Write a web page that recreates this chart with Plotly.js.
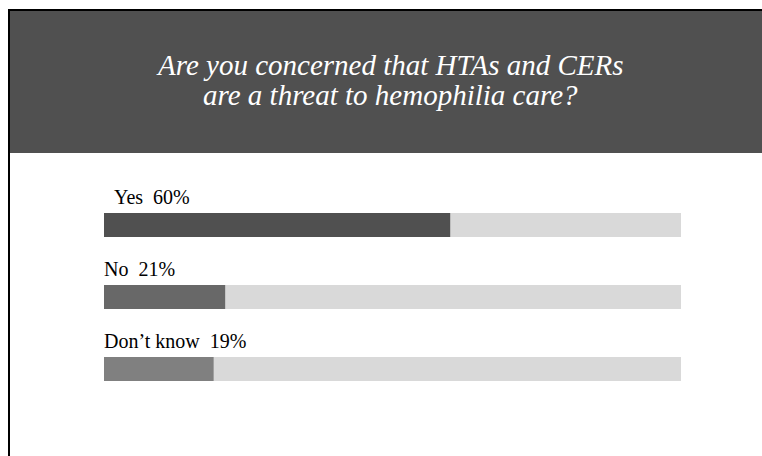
<!DOCTYPE html>
<html>
<head>
<meta charset="utf-8">
<script src="https://cdn.plot.ly/plotly-3.0.1.min.js"></script>
<style>html,body{margin:0;padding:0;background:#fff;}#chart{width:762px;height:456px;}</style>
</head>
<body>
<div id="chart"></div>
<script>
const categories = ["Yes", "No", "Don\u2019t know"];
const percents = [60, 21, 19];
const barColors = ["#505050", "#686868", "#808080"];
const labelPrefix = ["\u00a0\u00a0", "", ""];
const titleLines = ["Are you concerned that HTAs and CERs", "are a threat to hemophilia care?"];

const W = 762, H = 456;
const px = v => v / W;
const py = v => 1 - v / H;

const idx = categories.map((_, i) => i);

const bgTrace = {
  type: "bar", orientation: "h",
  x: categories.map(() => 100), y: idx,
  width: 1 / 3, marker: {color: "#d9d9d9"},
  hoverinfo: "skip", showlegend: false
};
const valTrace = {
  type: "bar", orientation: "h",
  x: percents, y: idx,
  width: 1 / 3, marker: {color: barColors},
  hoverinfo: "skip", showlegend: false
};

const serif = "Liberation Serif, Times New Roman, serif";

const annotations = categories.map((c, i) => ({
  xref: "x", yref: "y", x: 0, y: i - 0.389, xshift: -1,
  xanchor: "left", yanchor: "middle", showarrow: false, borderpad: 0,
  text: labelPrefix[i] + c + "\u00a0\u00a0" + percents[i] + "%",
  font: {family: serif, size: 20, color: "#000"}
}));

const titleCenters = [65, 95];
titleLines.forEach((t, i) => {
  annotations.push({
    xref: "paper", yref: "paper", x: px(390), y: py(titleCenters[i]),
    xanchor: "center", yanchor: "middle", showarrow: false, borderpad: 0,
    text: "<i>" + t + "</i>",
    font: {family: serif, size: 29, color: "#ffffff"}
  });
});

const yTop = -225 / 72;
const yBot = yTop + H / 72;

const layout = {
  width: W, height: H,
  margin: {l: 0, r: 0, t: 0, b: 0},
  paper_bgcolor: "#ffffff", plot_bgcolor: "rgba(0,0,0,0)",
  barmode: "overlay",
  showlegend: false,
  xaxis: {range: [0, 100], domain: [px(104), px(681)], visible: false, fixedrange: true},
  yaxis: {range: [yBot, yTop], visible: false, fixedrange: true},
  shapes: [
    {type: "rect", xref: "paper", yref: "paper", x0: px(8), x1: 1, y0: 0, y1: py(9), fillcolor: "#000000", line: {width: 0}, layer: "below"},
    {type: "rect", xref: "paper", yref: "paper", x0: px(10), x1: 1, y0: py(153), y1: py(11), fillcolor: "#505050", line: {width: 0}, layer: "below"},
    {type: "rect", xref: "paper", yref: "paper", x0: px(10), x1: 1, y0: 0, y1: py(153), fillcolor: "#ffffff", line: {width: 0}, layer: "below"}
  ],
  annotations: annotations
};

Plotly.newPlot("chart", [bgTrace, valTrace], layout, {staticPlot: true, displayModeBar: false});
</script>
</body>
</html>
